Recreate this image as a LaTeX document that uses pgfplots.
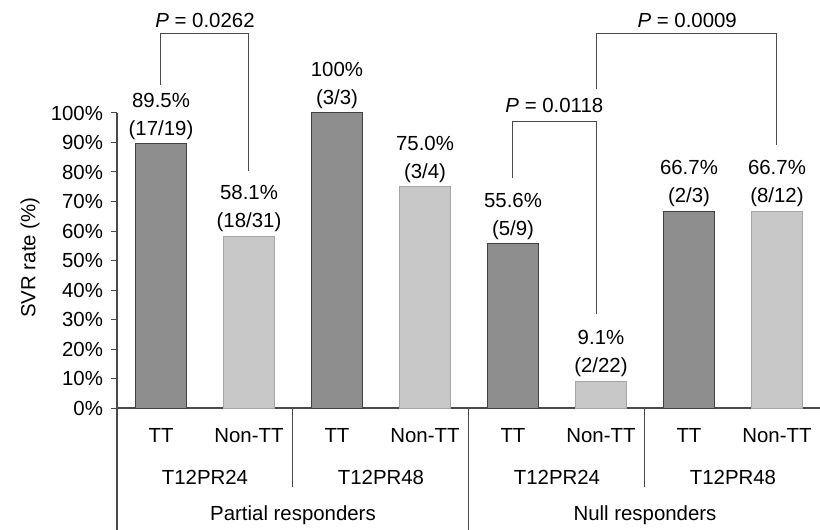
\documentclass[border=0pt]{standalone}
\usepackage{fontspec}
\setmainfont{Liberation Sans}
\usepackage{pgfplots}
\pgfplotsset{compat=1.18}
\definecolor{darkbar}{HTML}{8E8E8E}
\definecolor{lightbar}{HTML}{C8C8C8}
\definecolor{linec}{HTML}{4A4A4A}
\newcommand{\fs}{\fontsize{10.2}{14}\selectfont}
\tikzset{lab/.style={font=\fs, align=center, anchor=south, inner sep=0pt, yshift=2pt}}
\begin{document}
\begin{tikzpicture}
\begin{axis}[
  scale only axis, width=352pt, height=147.5pt,
  xmin=0, xmax=8, ymin=0, ymax=100,
  axis x line=bottom, axis y line=left,
  axis line style={-, draw=linec, line width=0.6pt},
  xtick=\empty,
  ytick={0,10,...,100},
  yticklabel={\pgfmathprintnumber[assume math mode=true]{\tick}\%},
  tick label style={font=\fs},
  y tick label style={xshift=-0.5pt},
  major tick length=3pt,
  tick style={draw=linec, line width=0.5pt},
  ytick pos=left, tick align=outside,
  clip=false,
  ybar, bar width=0.57, bar shift=0pt,
]
\addplot[fill=darkbar, draw=black!75, line width=0.5pt] coordinates {(0.5,89.5) (2.5,100) (4.5,55.6) (6.5,66.7)};
\addplot[fill=lightbar, draw=black!35, line width=0.5pt] coordinates {(1.5,58.1) (3.5,75.0) (5.5,9.1) (7.5,66.7)};
\coordinate (O) at (axis cs:0,0);
% value labels
\node[lab] at (axis cs:0.5,89.5) {89.5\%\\(17/19)};
\node[lab] at (axis cs:1.5,58.1) {58.1\%\\(18/31)};
\node[lab] at (axis cs:2.5,100) {100\%\\(3/3)};
\node[lab] at (axis cs:3.5,75.0) {75.0\%\\(3/4)};
\node[lab] at (axis cs:4.5,55.6) {55.6\%\\(5/9)};
\node[lab] at (axis cs:5.5,9.1) {9.1\%\\(2/22)};
\node[lab] at (axis cs:6.5,66.7) {66.7\%\\(2/3)};
\node[lab] at (axis cs:7.5,66.7) {66.7\%\\(8/12)};
% brackets
\draw[linec, line width=0.5pt] (axis cs:0.5,109.5) -- (axis cs:0.5,127) -- (axis cs:1.5,127) -- (axis cs:1.5,80.5);
\node[font=\fs] at (axis cs:1.0,131.5) {\textit{P} = 0.0262};
\draw[linec, line width=0.5pt] (axis cs:4.5,78) -- (axis cs:4.5,97) -- (axis cs:5.45,97) -- (axis cs:5.45,32);
\node[font=\fs] at (axis cs:4.97,102.4) {\textit{P} = 0.0118};
\draw[linec, line width=0.5pt] (axis cs:5.45,108) -- (axis cs:5.45,127) -- (axis cs:7.5,127) -- (axis cs:7.5,89);
\node[font=\fs] at (axis cs:6.48,131.5) {\textit{P} = 0.0009};
% category table
\draw[linec, line width=0.6pt] (axis cs:0,0) -- (axis cs:0,-41.4);
\draw[linec, line width=0.5pt] (axis cs:4,0) -- (axis cs:4,-41.4);
\draw[linec, line width=0.5pt] (axis cs:2,0) -- (axis cs:2,-26.8);
\draw[linec, line width=0.5pt] (axis cs:6,0) -- (axis cs:6,-26.8);
\node[font=\fs] at (axis cs:0.5,-9.2) {TT};
\node[font=\fs] at (axis cs:2.5,-9.2) {TT};
\node[font=\fs] at (axis cs:4.5,-9.2) {TT};
\node[font=\fs] at (axis cs:6.5,-9.2) {TT};
\node[font=\fs] at (axis cs:1.5,-9.2) {Non-TT};
\node[font=\fs] at (axis cs:3.5,-9.2) {Non-TT};
\node[font=\fs] at (axis cs:5.5,-9.2) {Non-TT};
\node[font=\fs] at (axis cs:7.5,-9.2) {Non-TT};
\node[font=\fs] at (axis cs:1,-23.4) {T12PR24};
\node[font=\fs] at (axis cs:3,-23.4) {T12PR48};
\node[font=\fs] at (axis cs:5,-23.4) {T12PR24};
\node[font=\fs] at (axis cs:7,-23.4) {T12PR48};
\node[font=\fs] at (axis cs:2,-36.3) {Partial responders};
\node[font=\fs] at (axis cs:6,-36.3) {Null responders};
\node[font=\fs, rotate=90] at ([xshift=-43.5pt]axis cs:0,51) {SVR rate (\%)};
\end{axis}
\pgfresetboundingbox
\path[use as bounding box] ([shift={(-58.5pt,-61pt)}]O) rectangle ([shift={(351.5pt,204pt)}]O);
\end{tikzpicture}
\end{document}
